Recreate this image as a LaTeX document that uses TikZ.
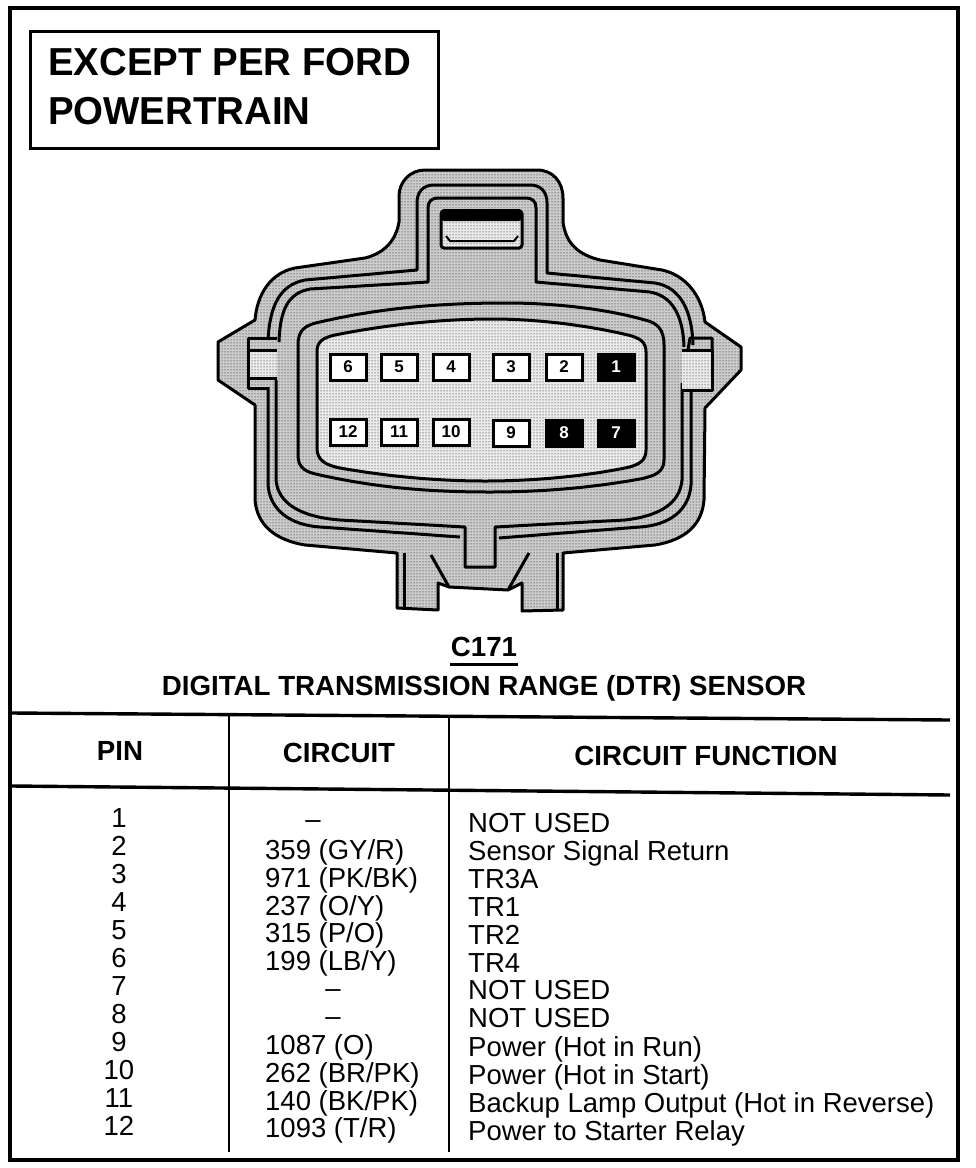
\documentclass[tikz,border=0pt]{standalone}
\usepackage{fontspec}
\setmainfont{Liberation Sans}
\usetikzlibrary{patterns}
\begin{document}
\begin{tikzpicture}[x=1pt,y=-1pt,
            line/.style = {line width=3pt, line join=round},
            rule/.style = {line width=3.4pt},
            shade/.style = {preaction={fill=black!20}, pattern=dots},
            pale/.style = {preaction={fill=black!8}, pattern=dots},
            pinbox/.style = {draw, line width=3pt, fill=white, minimum width=36pt, minimum height=26pt, inner sep=0pt, font=\bfseries\fontsize{17}{17}\selectfont},
            deadpin/.style = {pinbox, fill=black, text=white},
            bighead/.style = {font=\bfseries\fontsize{39}{39}\selectfont, anchor=west, inner sep=0pt, xscale=0.985},
            subhead/.style = {font=\bfseries\fontsize{27.7}{28}\selectfont, inner sep=0pt},
            rowtext/.style = {font=\fontsize{27.5}{27.5}\selectfont, inner sep=0pt, anchor=base},
            leftrow/.style = {rowtext, anchor=base west}]
\useasboundingbox (0,0) rectangle (976,1168);
\fill[white] (0,0) rectangle (976,1168);
\draw[line width=3.4pt] (10,8) rectangle (958,1160);
\draw[line width=3pt] (30,31) -- (438,31) -- (438,148) -- (30,148) -- cycle;
\node[bighead] (title1) at (48,62) {EXCEPT PER FORD};
\node[bighead] (title2) at (48,111) {POWERTRAIN};

\draw[line, shade]
    (425,170) -- (537,170) .. controls (553,170) and (563,182) .. (563,198) -- (563,222)
    .. controls (566,245) and (580,255) .. (600,260) -- (662,270)
    .. controls (685,275) and (702,295) .. (705,322) -- (741,347) -- (741,370) -- (705,408) -- (704,500)
    .. controls (702,525) and (685,540) .. (655,545) -- (563,553) -- (563,610) -- (522,611) -- (522,583) -- (508,590)
    -- (449,587) -- (438,583) -- (438,610) -- (397,608) -- (397,553) -- (305,545)
    .. controls (275,540) and (257,525) .. (255,500) -- (255,405) -- (218,380) -- (218,342) -- (255,320)
    .. controls (257,295) and (270,273) .. (295,268) -- (365,258)
    .. controls (385,253) and (396,240) .. (399,222) -- (399,196) .. controls (399,182) and (410,170) .. (425,170) -- cycle;

\draw[line] (268,340) .. controls (270,305) and (280,285) .. (305,280) -- (417,270) -- (417,203)
    .. controls (417,192) and (423,185) .. (434,185) -- (530,185) .. controls (541,185) and (547,192) .. (547,203)
    -- (547,273) -- (655,283) .. controls (680,287) and (692,310) .. (693,345);
\draw[line] (279,342) .. controls (280,310) and (288,293) .. (310,289) -- (428,282) -- (428,208)
    .. controls (428,201) and (432,198) .. (438,198) -- (526,198) .. controls (532,198) and (536,201) .. (536,208)
    -- (536,282) -- (650,292) .. controls (672,296) and (683,315) .. (684,347);
\draw[line] (268,387) -- (268,485) .. controls (270,510) and (290,525) .. (320,527) -- (460,537);
\draw[line] (691,392) -- (691,485) .. controls (689,510) and (670,525) .. (640,527) -- (499,538);
\draw[line] (276,380) -- (276,480) .. controls (278,503) and (300,517) .. (340,520) -- (465,527) -- (465,567)
    -- (495,567) -- (495,527) -- (625,520) .. controls (660,516) and (680,503) .. (682,480) -- (682,383);

\draw[line] (404,553) -- (404,608);
\draw[line] (557,553) -- (557,610);
\draw[line] (431,555) -- (449,587);
\draw[line] (529,553) -- (508,590);

\draw[line, pale] (277,350) -- (248,350) -- (248,378) -- (277,378);
\draw[line] (277,338) -- (248,338) -- (248,350);
\draw[line] (248,378) -- (248,388) -- (268,388);
\draw[line, pale] (682,350) -- (712,350) -- (712,390) -- (682,390);
\draw[line] (688,350) -- (690,338) -- (712,338) -- (712,350);

\draw[line, shade] (298,345) .. controls (298,330) and (305,325) .. (320,322) .. controls (380,308) and (440,303) .. (506,303)
    .. controls (560,303) and (610,310) .. (645,320) .. controls (658,323) and (664,330) .. (664,345) -- (664,460)
    .. controls (664,472) and (655,476) .. (640,479) .. controls (590,488) and (540,492) .. (490,492)
    .. controls (420,492) and (370,486) .. (320,475) .. controls (305,472) and (298,468) .. (298,455) -- cycle;
\draw[line, pale] (317,352) .. controls (317,342) and (322,338) .. (335,335) .. controls (385,325) and (440,319) .. (492,319)
    .. controls (540,319) and (590,326) .. (628,335) .. controls (640,338) and (646,342) .. (646,352) -- (646,450)
    .. controls (646,460) and (640,465) .. (625,468) .. controls (580,477) and (530,481) .. (485,481)
    .. controls (430,481) and (380,475) .. (340,468) .. controls (325,465) and (317,460) .. (317,448) -- cycle;

\draw[line width=3pt, pale, rounded corners=3pt] (441,211) rectangle (522,248);
\fill[black, rounded corners=3pt] (441,209) rectangle (522,221);
\draw[line width=2pt] (446,236) -- (450,241) -- (514,241) -- (518,236);

\node[pinbox] (pin6) at (348,367) {6};
\node[pinbox] (pin5) at (399,367) {5};
\node[pinbox] (pin4) at (451,367) {4};
\node[pinbox] (pin3) at (511,367) {3};
\node[pinbox] (pin2) at (564,367) {2};
\node[deadpin] (pin1) at (616,367) {1};
\node[pinbox] (pin12) at (348,432) {12};
\node[pinbox] (pin11) at (399,432) {11};
\node[pinbox] (pin10) at (451,432) {10};
\node[pinbox] (pin9) at (511,433) {9};
\node[deadpin] (pin8) at (564,433) {8};
\node[deadpin] (pin7) at (616,433) {7};

\node[subhead] (conn) at (484,647) {C171};
\draw[line width=3pt] (450,664) -- (518,664);
\node[subhead] (sensor) at (484,688) {DIGITAL TRANSMISSION RANGE (DTR) SENSOR};

\draw[rule] (12,713) -- (950,720);
\draw[rule] (12,786) -- (950,795);
\draw[line width=2.4pt] (229,715) -- (229,1152);
\draw[line width=2.4pt] (449,718) -- (449,1152);

\node[subhead] (headpin) at (120,751) {PIN};
\node[subhead] (headcir) at (339,753) {CIRCUIT};
\node[subhead] (headfun) at (706,756) {CIRCUIT FUNCTION};

\node[rowtext] (no1) at (119,827) {1};
\node[rowtext] (no2) at (119,855) {2};
\node[rowtext] (no3) at (119,883) {3};
\node[rowtext] (no4) at (119,911) {4};
\node[rowtext] (no5) at (119,939) {5};
\node[rowtext] (no6) at (119,967) {6};
\node[rowtext] (no7) at (119,995) {7};
\node[rowtext] (no8) at (119,1023) {8};
\node[rowtext] (no9) at (119,1051) {9};
\node[rowtext] (no10) at (119,1079) {10};
\node[rowtext] (no11) at (119,1107) {11};
\node[rowtext] (no12) at (119,1135) {12};

\node[rowtext] (cir1) at (313,828) {--};
\node[leftrow] (cir2) at (265,859) {359 (GY/R)};
\node[leftrow] (cir3) at (265,887) {971 (PK/BK)};
\node[leftrow] (cir4) at (265,915) {237 (O/Y)};
\node[leftrow] (cir5) at (265,942) {315 (P/O)};
\node[leftrow] (cir6) at (265,970) {199 (LB/Y)};
\node[rowtext] (cir7) at (333,997) {--};
\node[rowtext] (cir8) at (333,1025) {--};
\node[leftrow] (cir9) at (265,1054) {1087 (O)};
\node[leftrow] (cir10) at (265,1082) {262 (BR/PK)};
\node[leftrow] (cir11) at (265,1110) {140 (BK/PK)};
\node[leftrow] (cir12) at (265,1137) {1093 (T/R)};

\node[leftrow] (fun1) at (468,832) {NOT USED};
\node[leftrow] (fun2) at (468,860) {Sensor Signal Return};
\node[leftrow] (fun3) at (468,888) {TR3A};
\node[leftrow] (fun4) at (468,916) {TR1};
\node[leftrow] (fun5) at (468,944) {TR2};
\node[leftrow] (fun6) at (468,972) {TR4};
\node[leftrow] (fun7) at (468,999) {NOT USED};
\node[leftrow] (fun8) at (468,1027) {NOT USED};
\node[leftrow] (fun9) at (468,1056) {Power (Hot in Run)};
\node[leftrow] (fun10) at (468,1084) {Power (Hot in Start)};
\node[leftrow] (fun11) at (468,1112) {Backup Lamp Output (Hot in Reverse)};
\node[leftrow] (fun12) at (468,1140) {Power to Starter Relay};
\end{tikzpicture}
\end{document}
